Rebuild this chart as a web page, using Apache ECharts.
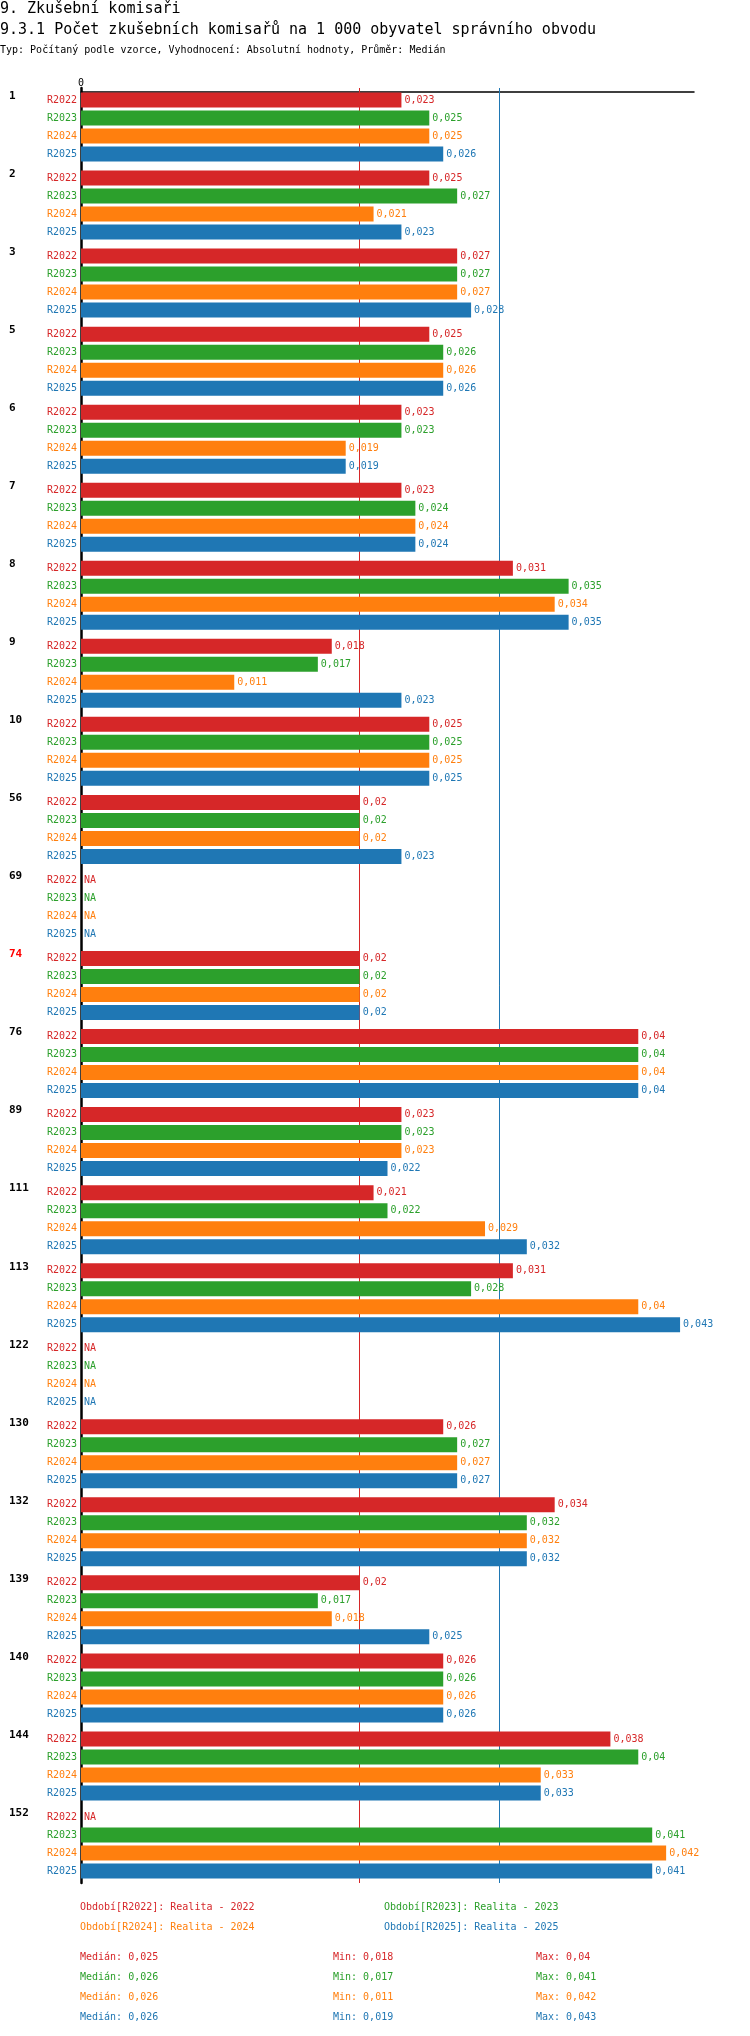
<!DOCTYPE html>
<html>
<head>
<meta charset="utf-8">
<script src="https://cdn.jsdelivr.net/npm/echarts@6/dist/echarts.min.js"></script>
<style>
  html, body { margin: 0; padding: 0; background: #fff; }
  #chart { width: 750px; height: 2036px; }
</style>
</head>
<body>
<div id="chart"></div>
<script>
const groups = ['1', '2', '3', '5', '6', '7', '8', '9', '10', '56', '69', '74', '76', '89', '111', '113', '122', '130', '132', '139', '140', '144', '152'];
const seriesNames = ['R2022', 'R2023', 'R2024', 'R2025'];
const colors = ['#d62728', '#2ca02c', '#ff7f0e', '#1f77b4'];

const r2022 = [0.023, 0.025, 0.027, 0.025, 0.023, 0.023, 0.031, 0.018, 0.025, 0.02, null, 0.02, 0.04, 0.023, 0.021, 0.031, null, 0.026, 0.034, 0.02, 0.026, 0.038, null];
const r2023 = [0.025, 0.027, 0.027, 0.026, 0.023, 0.024, 0.035, 0.017, 0.025, 0.02, null, 0.02, 0.04, 0.023, 0.022, 0.028, null, 0.027, 0.032, 0.017, 0.026, 0.04, 0.041];
const r2024 = [0.025, 0.021, 0.027, 0.026, 0.019, 0.024, 0.034, 0.011, 0.025, 0.02, null, 0.02, 0.04, 0.023, 0.029, 0.04, null, 0.027, 0.032, 0.018, 0.026, 0.033, 0.042];
const r2025 = [0.026, 0.023, 0.028, 0.026, 0.019, 0.024, 0.035, 0.023, 0.025, 0.023, null, 0.02, 0.04, 0.022, 0.032, 0.043, null, 0.027, 0.032, 0.025, 0.026, 0.033, 0.041];
const values = [r2022, r2023, r2024, r2025];

// median line positions (as drawn) and the summary texts
const medianLines = [0.0243, 0.0259, 0.0261, 0.0259];
const medianText = ['0,025', '0,026', '0,026', '0,026'];
const minText = ['0,018', '0,017', '0,011', '0,019'];
const maxText = ['0,04', '0,041', '0,042', '0,043'];
const legendText = ['Období[R2022]: Realita - 2022', 'Období[R2023]: Realita - 2023', 'Období[R2024]: Realita - 2024', 'Období[R2025]: Realita - 2025'];

const font = 'DejaVu Sans Mono';
const chart = echarts.init(document.getElementById('chart'));

const fmt = v => String(v).replace('.', ',');

const series = [];
values.forEach((vals, i) => {
    series.push({
        name: seriesNames[i],
        type: 'bar',
        yAxisIndex: 0,
        barWidth: 15,
        barGap: '20%',
        data: vals.map(v => v == null ? 0 : v),
        itemStyle: { color: colors[i] },
        label: {
            show: true,
            position: 'right',
            distance: 3,
            color: colors[i],
            fontFamily: font,
            fontSize: 10,
            formatter: p => vals[p.dataIndex] == null ? 'NA' : fmt(p.value)
        },
        markLine: {
            silent: true,
            symbol: 'none',
            label: { show: false },
            lineStyle: { color: colors[i], width: 1, type: 'solid' },
            data: [{ xAxis: medianLines[i] }],
            z: 1
        },
        z: 3
    });
});
values.forEach((vals, i) => {
    series.push({
        name: seriesNames[i] + '_lbl',
        type: 'bar',
        yAxisIndex: 1,
        barWidth: 15,
        barGap: '20%',
        data: vals.map(() => 0),
        itemStyle: { color: 'rgba(0,0,0,0)' },
        label: {
            show: true,
            position: 'left',
            distance: 4,
            color: colors[i],
            fontFamily: font,
            fontSize: 10,
            formatter: seriesNames[i]
        }
    });
});

const graphic = [
    { type: 'text', left: 0, top: 2, style: { text: '9. Zkušební komisaři', font: '15px ' + font, fill: '#000' } },
    { type: 'text', left: 0, top: 23, style: { text: '9.3.1 Počet zkušebních komisařů na 1 000 obyvatel správního obvodu', font: '15px ' + font, fill: '#000' } },
    { type: 'text', left: 0, top: 45, style: { text: 'Typ: Počítaný podle vzorce, Vyhodnocení: Absolutní hodnoty, Průměr: Medián', font: '10px ' + font, fill: '#000' } }
];
legendText.forEach((t, i) => {
    graphic.push({ type: 'text', left: i % 2 === 0 ? 80 : 384, top: 1902 + Math.floor(i / 2) * 20,
        style: { text: t, font: '10px ' + font, fill: colors[i] } });
});
colors.forEach((c, i) => {
    const top = 1952 + i * 20;
    graphic.push({ type: 'text', left: 80, top: top, style: { text: 'Medián: ' + medianText[i], font: '10px ' + font, fill: c } });
    graphic.push({ type: 'text', left: 333, top: top, style: { text: 'Min: ' + minText[i], font: '10px ' + font, fill: c } });
    graphic.push({ type: 'text', left: 536, top: top, style: { text: 'Max: ' + maxText[i], font: '10px ' + font, fill: c } });
});

chart.setOption({
    animation: false,
    textStyle: { fontFamily: font },
    grid: { left: 81, right: 56, top: 88, height: 1795 },
    xAxis: {
        type: 'value',
        position: 'top',
        offset: -4,
        min: 0,
        max: 0.044,
        interval: 0.011,
        axisLine: { show: true, lineStyle: { color: '#000', width: 1.5 } },
        axisTick: { show: false },
        splitLine: { show: false },
        axisLabel: { formatter: v => v === 0 ? '0' : '', color: '#000', fontSize: 10, fontFamily: font, margin: 4 }
    },
    yAxis: [{
        type: 'category',
        inverse: true,
        data: groups,
        axisLine: { show: true, lineStyle: { color: '#000', width: 2.5 } },
        axisTick: { show: false },
        axisLabel: {
            align: 'left',
            margin: 72,
            formatter: v => (v === '74' ? '{r|' : '{a|') + v + '}',
            rich: {
                a: { color: '#000', fontWeight: 'bold', fontSize: 11, fontFamily: font, padding: [0, 0, 62, 0] },
                r: { color: '#ff0000', fontWeight: 'bold', fontSize: 11, fontFamily: font, padding: [0, 0, 62, 0] }
            }
        }
    }, {
        type: 'category',
        inverse: true,
        data: groups,
        show: false
    }],
    series: series,
    graphic: graphic
});
</script>
</body>
</html>
